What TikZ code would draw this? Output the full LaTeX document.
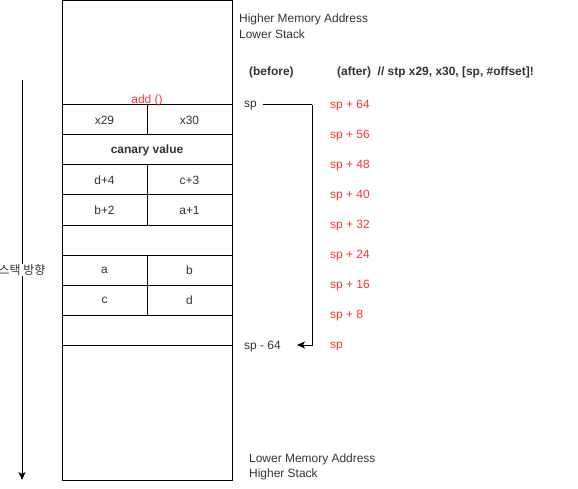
\documentclass[tikz,border=0pt]{standalone}
\usepackage{fontspec}
\setmainfont{Liberation Sans}
\newfontfamily\krfont{Noto Sans CJK KR}
\usetikzlibrary{arrows.meta}
\definecolor{txt}{HTML}{333333}
\definecolor{redt}{HTML}{FF3333}
\tikzset{
  cellbox/.style={draw=black, line width=1bp, minimum height=30bp, inner sep=0pt, text=txt, font=\fontsize{12}{14}\selectfont},
  half/.style={cellbox, minimum width=85bp},
  full/.style={cellbox, minimum width=170bp},
  lbl/.style={text=txt, font=\fontsize{12}{14}\selectfont, inner sep=0pt, anchor=west, yshift=-1.5bp},
  rlbl/.style={text=redt, font=\fontsize{12}{14}\selectfont, inner sep=0pt, anchor=west, yshift=-1.5bp},
  arr/.style={line width=1bp, -{Stealth[length=8bp,width=7bp,inset=2bp]}}
}
\begin{document}
\begin{tikzpicture}[x=1bp,y=-1bp]
\useasboundingbox (0,0) rectangle (578,489);
% stack frame
\node[full, minimum height=104.5bp] (top) at (147,52.75) {};
\node[half] (x29) at (104.5,120) {x29};
\node[half] (x30) at (189.5,120) {x30};
\node[full, font=\bfseries\fontsize{12}{14}\selectfont] (canary) at (147,150) {canary value};
\node[half] (d4) at (104.5,180) {d+4};
\node[half] (c3) at (189.5,180) {c+3};
\node[half] (b2) at (104.5,210) {b+2};
\node[half] (a1) at (189.5,210) {a+1};
\node[full] (e1) at (147,240) {};
\node[half] (a) at (104.5,270) {a};
\node[half] (b) at (189.5,270) {b};
\node[half] (c) at (104.5,300) {c};
\node[half] (d) at (189.5,300) {d};
\node[full] (e2) at (147,330) {};
\node[full, minimum height=135bp] (bot) at (147,412.5) {};
\node[text=redt, font=\fontsize{12}{14}\selectfont, inner sep=0pt] (add) at (147,100.5) {add ()};
% stack direction
\coordinate (dirS) at (22,80);
\coordinate (dirE) at (22,480);
\draw[arr] (dirS) -- (dirE);
\node[fill=white, text=txt, inner sep=1pt, font=\krfont\fontsize{12}{14}\selectfont] (dir) at (22,270) {스택 방향};
% top texts
\node[lbl] (hma) at (239,17.5) {Higher Memory Address};
\node[lbl] (ls) at (239,32.5) {Lower Stack};
\node[lbl, font=\bfseries\fontsize{12}{14}\selectfont] (before) at (249,70.5) {(before)};
\node[lbl, font=\bfseries\fontsize{12}{14}\selectfont] (after) at (337,70.5) {(after)\ \ // stp x29, x30, [sp, \#offset]!};
\node[lbl] (lma) at (249,458) {Lower Memory Address};
\node[lbl] (hs) at (249,473) {Higher Stack};
% sp arrow
\node[lbl] (sp) at (244,104) {sp};
\node[lbl] (sp64) at (244,345) {sp - 64};
\coordinate (bend) at (312,105);
\draw[line width=1bp] (263,105) -- (bend);
\draw[arr] (bend) |- (297,345);
% after labels
\node[rlbl] (r64) at (330,104) {sp + 64};
\node[rlbl] (r56) at (330,134) {sp + 56};
\node[rlbl] (r48) at (330,164) {sp + 48};
\node[rlbl] (r40) at (330,194) {sp + 40};
\node[rlbl] (r32) at (330,224) {sp + 32};
\node[rlbl] (r24) at (330,254) {sp + 24};
\node[rlbl] (r16) at (330,284) {sp + 16};
\node[rlbl] (r8) at (330,314) {sp + 8};
\node[rlbl] (r0) at (330,345) {sp};
\end{tikzpicture}
\end{document}
